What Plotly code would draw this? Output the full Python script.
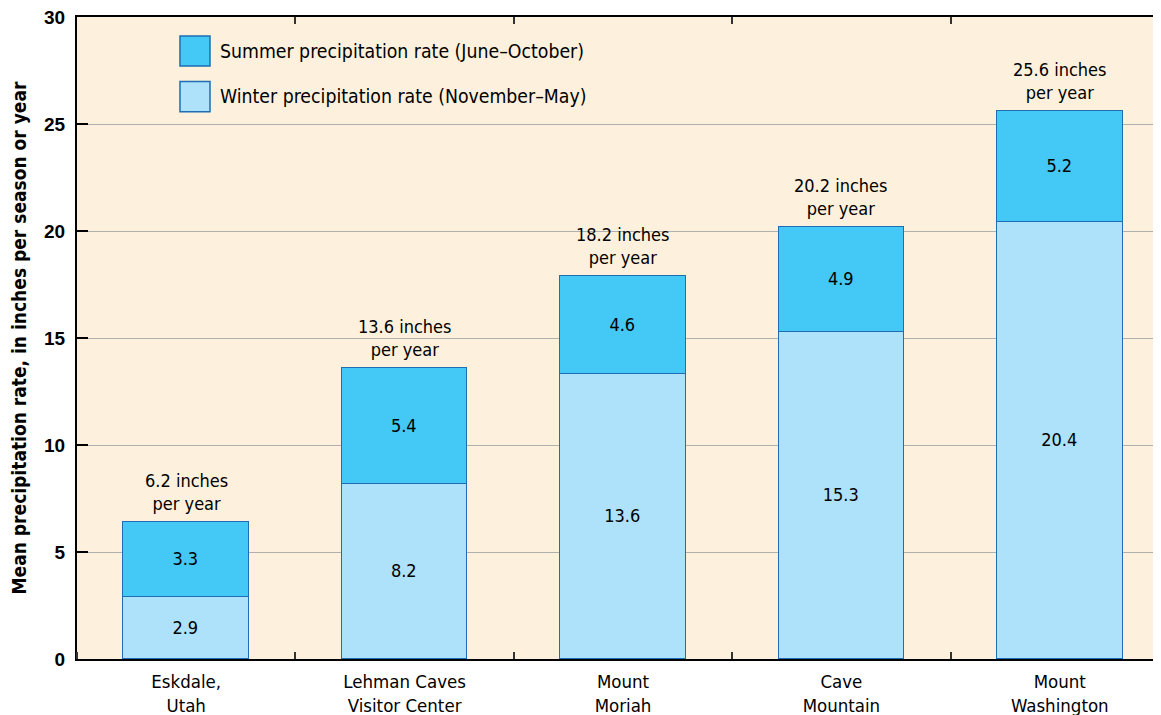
import plotly.graph_objects as go

categories = ["Eskdale,<br>Utah", "Lehman Caves<br>Visitor Center", "Mount<br>Moriah",
              "Cave<br>Mountain", "Mount<br>Washington"]
winter = [2.9, 8.2, 13.3, 15.3, 20.4]
summer = [3.5, 5.4, 4.6, 4.9, 5.2]
winter_labels = ["2.9", "8.2", "13.6", "15.3", "20.4"]
summer_labels = ["3.3", "5.4", "4.6", "4.9", "5.2"]
total_labels = ["6.2 inches<br>per year", "13.6 inches<br>per year", "18.2 inches<br>per year",
                "20.2 inches<br>per year", "25.6 inches<br>per year"]
legend_names = ["Summer precipitation rate (June\u2013October)",
                "Winter precipitation rate (November\u2013May)"]
yticks = [0, 5, 10, 15, 20, 25, 30]
boundaries = [0.5, 1.5, 2.5, 3.5]

FONT = "DejaVu Sans Condensed, Liberation Sans Narrow, sans-serif"
SUMMER_C = "#44C8F5"
WINTER_C = "#AEE1FA"
EDGE = "#1F6DB3"
BG = "#FDF0DC"

xpos = list(range(len(categories)))
totals = [w + s for w, s in zip(winter, summer)]

fig = go.Figure()
fig.add_trace(go.Bar(x=xpos, y=winter, width=0.575, marker=dict(color=WINTER_C, line=dict(color=EDGE, width=1.5)),
                     text=winter_labels, textposition="inside", insidetextanchor="middle",
                     textfont=dict(family=FONT, size=18, color="black"), showlegend=False,
                     hoverinfo="skip"))
fig.add_trace(go.Bar(x=xpos, y=summer, width=0.575, marker=dict(color=SUMMER_C, line=dict(color=EDGE, width=1.5)),
                     text=summer_labels, textposition="inside", insidetextanchor="middle",
                     textfont=dict(family=FONT, size=18, color="black"), showlegend=False,
                     hoverinfo="skip"))
# invisible helper trace so the top (boundary-tick) axis is drawn
fig.add_trace(go.Scatter(x=xpos, y=totals, mode="none", xaxis="x2", showlegend=False, hoverinfo="skip"))
for x, t, lab in zip(xpos, totals, total_labels):
    fig.add_annotation(x=x, y=t, text=lab, showarrow=False, xanchor="center", yanchor="bottom",
                       yshift=6, font=dict(family=FONT, size=18, color="black"))

# Legend swatches
legend_colors = [SUMMER_C, WINTER_C]
legend_y = [0.947, 0.876]
for name, col, yc in zip(legend_names, legend_colors, legend_y):
    fig.add_shape(type="rect", xref="paper", yref="paper",
                  x0=0.0943, x1=0.1218, y0=yc - 0.0235, y1=yc + 0.0235,
                  fillcolor=col, line=dict(color=EDGE, width=1.5))
    fig.add_annotation(xref="paper", yref="paper", x=0.129, y=yc, text=name, showarrow=False,
                       xanchor="left", yanchor="middle", font=dict(family=FONT, size=19.3, color="black"))

fig.update_layout(
    width=1161, height=715,
    margin=dict(l=69, r=0, t=9, b=64, autoexpand=False),
    paper_bgcolor="white", plot_bgcolor=BG,
    barmode="stack", bargap=0,
    font=dict(family=FONT, color="black"),
    xaxis2=dict(overlaying="x", matches="x", side="top", tickmode="array", tickvals=boundaries,
                showticklabels=False, ticks="inside", ticklen=7, tickcolor="#333", tickwidth=1.5,
                showgrid=False, zeroline=False, showline=False, automargin=False),
)
fig.layout.xaxis.update(range=[-0.5, 4.5], tickmode="array", tickvals=xpos, ticktext=categories,
                        ticks="", showgrid=False, zeroline=False, automargin=False,
                        showline=True, linecolor="black", linewidth=2, mirror=True,
                        ticklabelstandoff=5,
                        tickfont=dict(family=FONT, size=18.5, color="black"),
                        minor=dict(tick0=0.5, dtick=1, ticks="inside", ticklen=7, tickcolor="#333",
                                   tickwidth=1.5, showgrid=False))
fig.update_yaxes(range=[0, 30], tickmode="array", tickvals=yticks, ticks="inside", ticklen=11,
                 tickcolor="black", tickwidth=1.5, showgrid=True, gridcolor="#B0B0B0", gridwidth=1,
                 zeroline=False, showline=True, linecolor="black", linewidth=2, mirror="ticks",
                 automargin=False, ticklabelstandoff=6, ticklabeloverflow="allow",
                 tickfont=dict(family="Liberation Sans, Arial, sans-serif", size=19, color="black", weight="bold"),
                 title=dict(text="<b>Mean precipitation rate, in inches per season or year</b>",
                            font=dict(family=FONT, size=19, color="black")))

fig.write_html("out.html")
